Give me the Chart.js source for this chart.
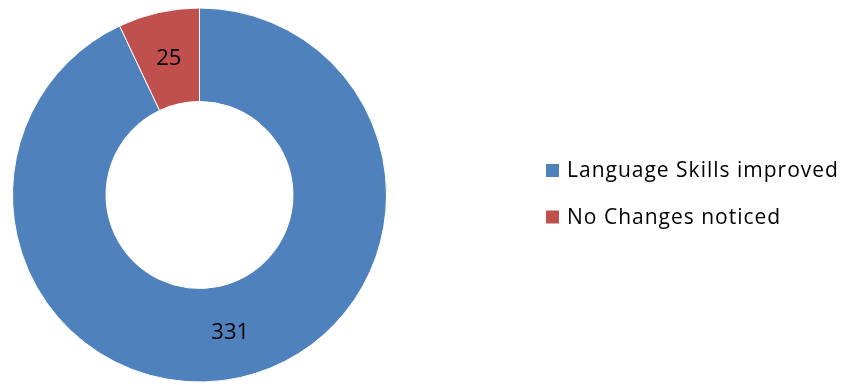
<!DOCTYPE html>
<html>
<head>
<meta charset="utf-8">
<script src="https://cdn.jsdelivr.net/npm/chart.js@4/dist/chart.umd.min.js"></script>
<style>
  html, body { margin: 0; padding: 0; background: #ffffff; }
  #wrap { position: relative; width: 842px; height: 385px; }
</style>
</head>
<body>
<div id="wrap"><canvas id="c" width="842" height="385"></canvas></div>
<script>
const categories = ['Language Skills improved', 'No Changes noticed'];
const responses = [331, 25];
const sliceColors = ['#4F81BD', '#C0504D'];

const FONT = '"Open Sans", Lato, sans-serif';

// Value labels centred in each ring segment
const sliceLabels = {
  id: 'sliceLabels',
  afterDatasetsDraw(chart) {
    const ctx = chart.ctx;
    const meta = chart.getDatasetMeta(0);
    ctx.save();
    ctx.font = '22px ' + FONT;
    ctx.fillStyle = '#000000';
    ctx.textAlign = 'center';
    ctx.textBaseline = 'middle';
    meta.data.forEach((arc, i) => {
      const p = arc.tooltipPosition();
      ctx.fillText(String(chart.data.datasets[0].data[i]), p.x, p.y + 1);
    });
    ctx.restore();
  }
};

// Legend on the right, built from the chart's labels and colours
const sideLegend = {
  id: 'sideLegend',
  afterDraw(chart) {
    const ctx = chart.ctx;
    const ds = chart.data.datasets[0];
    const x0 = 546, base0 = 177, rowGap = 46.5, box = 13;
    ctx.save();
    ctx.font = '21px ' + FONT;
    ctx.letterSpacing = '1px';
    ctx.textBaseline = 'alphabetic';
    ctx.textAlign = 'left';
    chart.data.labels.forEach((lab, i) => {
      const b = base0 + i * rowGap;
      ctx.fillStyle = ds.backgroundColor[i];
      ctx.fillRect(x0, b - box, box, box);
      ctx.fillStyle = '#000000';
      ctx.fillText(lab, 567, b);
    });
    ctx.restore();
  }
};

new Chart(document.getElementById('c'), {
  type: 'doughnut',
  data: {
    labels: categories,
    datasets: [{
      data: responses,
      backgroundColor: sliceColors,
      borderColor: '#ffffff',
      borderWidth: 1
    }]
  },
  options: {
    responsive: false,
    animation: false,
    cutout: '50%',
    layout: { padding: { left: 12, right: 455, top: 7, bottom: 2 } },
    plugins: {
      legend: { display: false },
      tooltip: { enabled: false }
    }
  },
  plugins: [sliceLabels, sideLegend]
});
</script>
</body>
</html>
